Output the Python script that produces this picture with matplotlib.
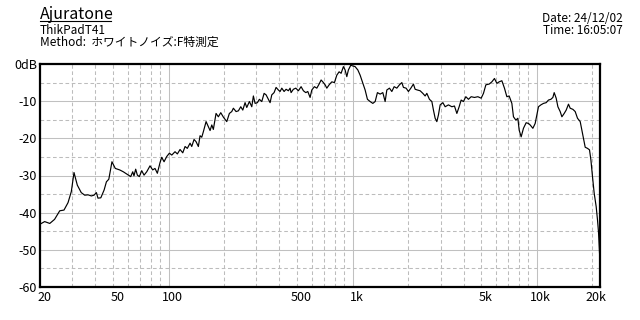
import matplotlib
matplotlib.use("Agg")
import matplotlib.pyplot as plt
from matplotlib.lines import Line2D
from matplotlib.transforms import ScaledTranslation

plt.rcParams['font.family'] = ['Noto Sans CJK JP', 'DejaVu Sans']

# ---- data ----
freq_hz = [20, 21.2, 22.6, 24.0, 25.6, 27.0, 28.4, 29.6, 30.6, 31.9, 33.5, 35.0, 36.5, 38.0,
           39.3, 40.5, 41.3, 42.8, 44.6, 45.9, 47.3, 49.2, 51.3, 54.2, 56.7, 60.4, 62.2, 63.8,
           64.8, 66.2, 67.6, 69.3, 71.4, 73.5, 76.0, 79.2, 81.9, 84.3, 86.8, 89.8, 91.7, 94.4,
           97.6, 100.9, 104.0, 108.3, 111.5, 115.3, 119.3, 122.8, 126.3, 130.7, 133.5, 137.4,
           140.9, 145.0, 148.1, 151.3, 154.4, 159.7, 164.3, 167.9, 171.5, 174.9, 180.9, 186.2,
           191.9, 198.3, 206.9, 213.7, 220.2, 224.7, 232.4, 239.2, 246.5, 252.8, 260.1, 265.7,
           274.5, 282.9, 288.6, 294.8, 303.4, 311.1, 320.6, 330.0, 338.3, 348.2, 355.7, 363.3,
           373.9, 383.4, 394.6, 403.1, 411.8, 423.8, 434.5, 447.2, 456.8, 462.5, 476.0, 490.6,
           506.8, 524.2, 539.5, 555.9, 570.0, 586.7, 599.3, 619.2, 638.1, 656.7, 673.4, 693.1,
           707.9, 723.3, 744.4, 769.9, 795.5, 819.6, 843.4, 864.8, 890.0, 909.1, 928.6, 947.4,
           976.5, 996.3, 1030, 1066, 1097, 1135, 1168, 1202, 1243, 1286, 1324, 1362, 1409, 1457,
           1500, 1532, 1583, 1631, 1679, 1736, 1794, 1849, 1886, 1950, 2007, 2069, 2137, 2183,
           2247, 2324, 2404, 2474, 2527, 2611, 2691, 2745, 2804, 2864, 2922, 2985, 3088, 3178,
           3311, 3456, 3570, 3679, 3786, 3882, 3995, 4117, 4253, 4400, 4585, 4785, 4987, 5132,
           5289, 5512, 5701, 5889, 6069, 6246, 6459, 6673, 6877, 7077, 7321, 7469, 7696, 7892,
           8022, 8224, 8464, 8755, 9011, 9204, 9521, 9799, 10011, 10213, 10524, 10872, 11247,
           11575, 11927, 12230, 12432, 12745, 13021, 13401, 13689, 14089, 14445, 14867, 15186,
           15709, 16168, 16641, 17213, 17582, 17937, 18324, 18859, 19336, 19678, 20074, 20508,
           21024, 21374, 21640, 21918]
level_db = [-43.1, -42.4, -42.9, -41.8, -39.5, -39.3, -37.3, -34.3, -29.2, -32.6, -34.6, -35.3,
            -35.2, -35.5, -35.3, -34.6, -36.1, -36.0, -33.9, -31.7, -31.0, -26.3, -28.1, -28.5,
            -29.0, -29.9, -30.3, -29.0, -30.1, -28.3, -29.9, -30.3, -28.7, -29.9, -29.0, -27.4,
            -28.5, -28.1, -29.4, -26.5, -25.1, -26.3, -24.9, -24.0, -24.5, -23.6, -24.2, -23.0,
            -23.9, -22.2, -22.7, -21.3, -22.2, -20.3, -20.9, -22.2, -19.3, -19.7, -18.2, -15.5,
            -16.9, -17.9, -16.4, -17.6, -13.3, -14.2, -13.1, -14.3, -15.5, -13.3, -12.8, -11.9,
            -12.8, -12.6, -11.5, -12.4, -10.4, -11.7, -10.1, -11.5, -8.6, -10.6, -10.4, -9.5,
            -10.1, -7.9, -8.3, -9.5, -10.4, -8.3, -7.7, -6.3, -7.0, -7.4, -6.5, -7.4, -6.8,
            -7.2, -6.5, -7.7, -6.8, -6.5, -7.2, -6.1, -7.2, -7.7, -7.4, -9.0, -7.0, -6.1, -6.5,
            -5.4, -4.3, -5.0, -5.6, -6.5, -5.6, -4.8, -5.0, -3.0, -2.1, -2.5, -0.7, -1.6, -3.4,
            -1.6, -0.3, -0.5, -0.7, -1.6, -3.0, -5.2, -7.0, -9.5, -10.1, -10.6, -10.1, -7.7,
            -8.1, -7.7, -10.1, -7.0, -6.5, -7.4, -6.1, -6.5, -5.6, -5.0, -6.3, -6.5, -7.4, -6.5,
            -5.4, -6.8, -7.0, -7.2, -7.9, -8.6, -7.9, -9.5, -10.1, -12.4, -14.6, -15.5, -13.7,
            -11.0, -10.4, -11.5, -11.0, -11.5, -11.3, -13.3, -11.5, -9.7, -10.1, -8.8, -9.5,
            -8.8, -9.0, -8.8, -9.2, -7.9, -5.6, -5.4, -4.8, -3.9, -5.2, -4.8, -4.5, -6.5, -8.8,
            -8.6, -10.6, -14.2, -15.1, -14.6, -17.8, -19.6, -17.3, -15.8, -16.0, -16.4, -17.3,
            -16.0, -13.7, -11.5, -11.0, -10.6, -10.4, -9.7, -9.5, -9.0, -7.7, -9.2, -11.5, -12.8,
            -14.2, -13.3, -12.4, -10.8, -11.9, -12.2, -12.8, -14.6, -15.5, -17.8, -20.0, -22.4,
            -22.7, -23.1, -25.8, -30.3, -34.8, -38.4, -42.0, -45.2, -50.8]

x_tick_values = [20, 50, 100, 500, 1000, 5000, 10000, 20000]
x_tick_labels = ["20", "50", "100", "500", "1k", "5k", "10k", "20k"]
y_tick_values = [0, -10, -20, -30, -40, -50, -60]
y_tick_labels = ["0dB", "-10", "-20", "-30", "-40", "-50", "-60"]
x_major_grid = [100, 1000, 10000]
x_minor_grid = [30, 40, 50, 60, 70, 80, 90, 200, 300, 400, 500, 600, 700, 800, 900,
                2000, 3000, 4000, 5000, 6000, 7000, 8000, 9000, 20000]
y_major_grid = [-10, -20, -30, -40, -50]
y_minor_grid = [-5, -15, -25, -35, -45, -55]
x_range = (20, 22050)
y_range = (-60, 0)

title = "Ajuratone"
device = "ThikPadT41"
method = "Method:  ホワイトノイズ:F特測定"
date_txt = "Date: 24/12/02"
time_txt = "Time: 16:05:07"

# ---- figure ----
W, H = 640, 320
fig = plt.figure(figsize=(6.4, 3.2), dpi=100)
fig.patch.set_facecolor("white")
ax = fig.add_axes([40 / W, 1 - 287 / H, 560 / W, 223 / H])
ax.set_xscale("log")
ax.set_xlim(*x_range)
ax.set_ylim(*y_range)

for v in x_major_grid:
    ax.axvline(v, color="#c0c0c0", lw=0.75, zorder=1)
for v in x_minor_grid:
    ax.axvline(v, color="#bcbcbc", lw=0.75, ls=(0, (3.5, 2.5)), zorder=1)
for v in y_major_grid:
    ax.axhline(v, color="#c0c0c0", lw=0.75, zorder=1)
for v in y_minor_grid:
    ax.axhline(v, color="#bcbcbc", lw=0.75, ls=(0, (3.5, 2.5)), zorder=1)

ax.plot(freq_hz, level_db, color="black", lw=0.85, zorder=3)

ax.set_xticks(x_tick_values)
ax.set_xticklabels(x_tick_labels)
ax.xaxis.set_minor_locator(matplotlib.ticker.NullLocator())
ax.set_yticks(y_tick_values)
ax.set_yticklabels(y_tick_labels)
ax.tick_params(axis="both", length=0, labelsize=9, colors="black")
ax.tick_params(axis="x", pad=3)
ax.tick_params(axis="y", pad=2)
off = ScaledTranslation(4 / 100, 0, fig.dpi_scale_trans)
for lab in ax.get_xticklabels():
    lab.set_transform(lab.get_transform() + off)

for s in ax.spines.values():
    s.set_linewidth(1.6)
    s.set_color("black")

def fx(px):
    return px / W

def fy(py):
    return 1 - py / H

fig.text(fx(40), fy(19), title, fontsize=11.5, ha="left", va="baseline")
fig.add_artist(Line2D([fx(40), fx(111)], [fy(20.5), fy(20.5)], color="black", lw=0.8))
fig.text(fx(40), fy(33.5), device, fontsize=8.5, ha="left", va="baseline")
fig.text(fx(40), fy(45.5), method, fontsize=8.5, ha="left", va="baseline")
fig.text(fx(623), fy(22.5), date_txt, fontsize=8.5, ha="right", va="baseline")
fig.text(fx(623), fy(34), time_txt, fontsize=8.5, ha="right", va="baseline")

fig.savefig("out.png", dpi=100, facecolor="white")
